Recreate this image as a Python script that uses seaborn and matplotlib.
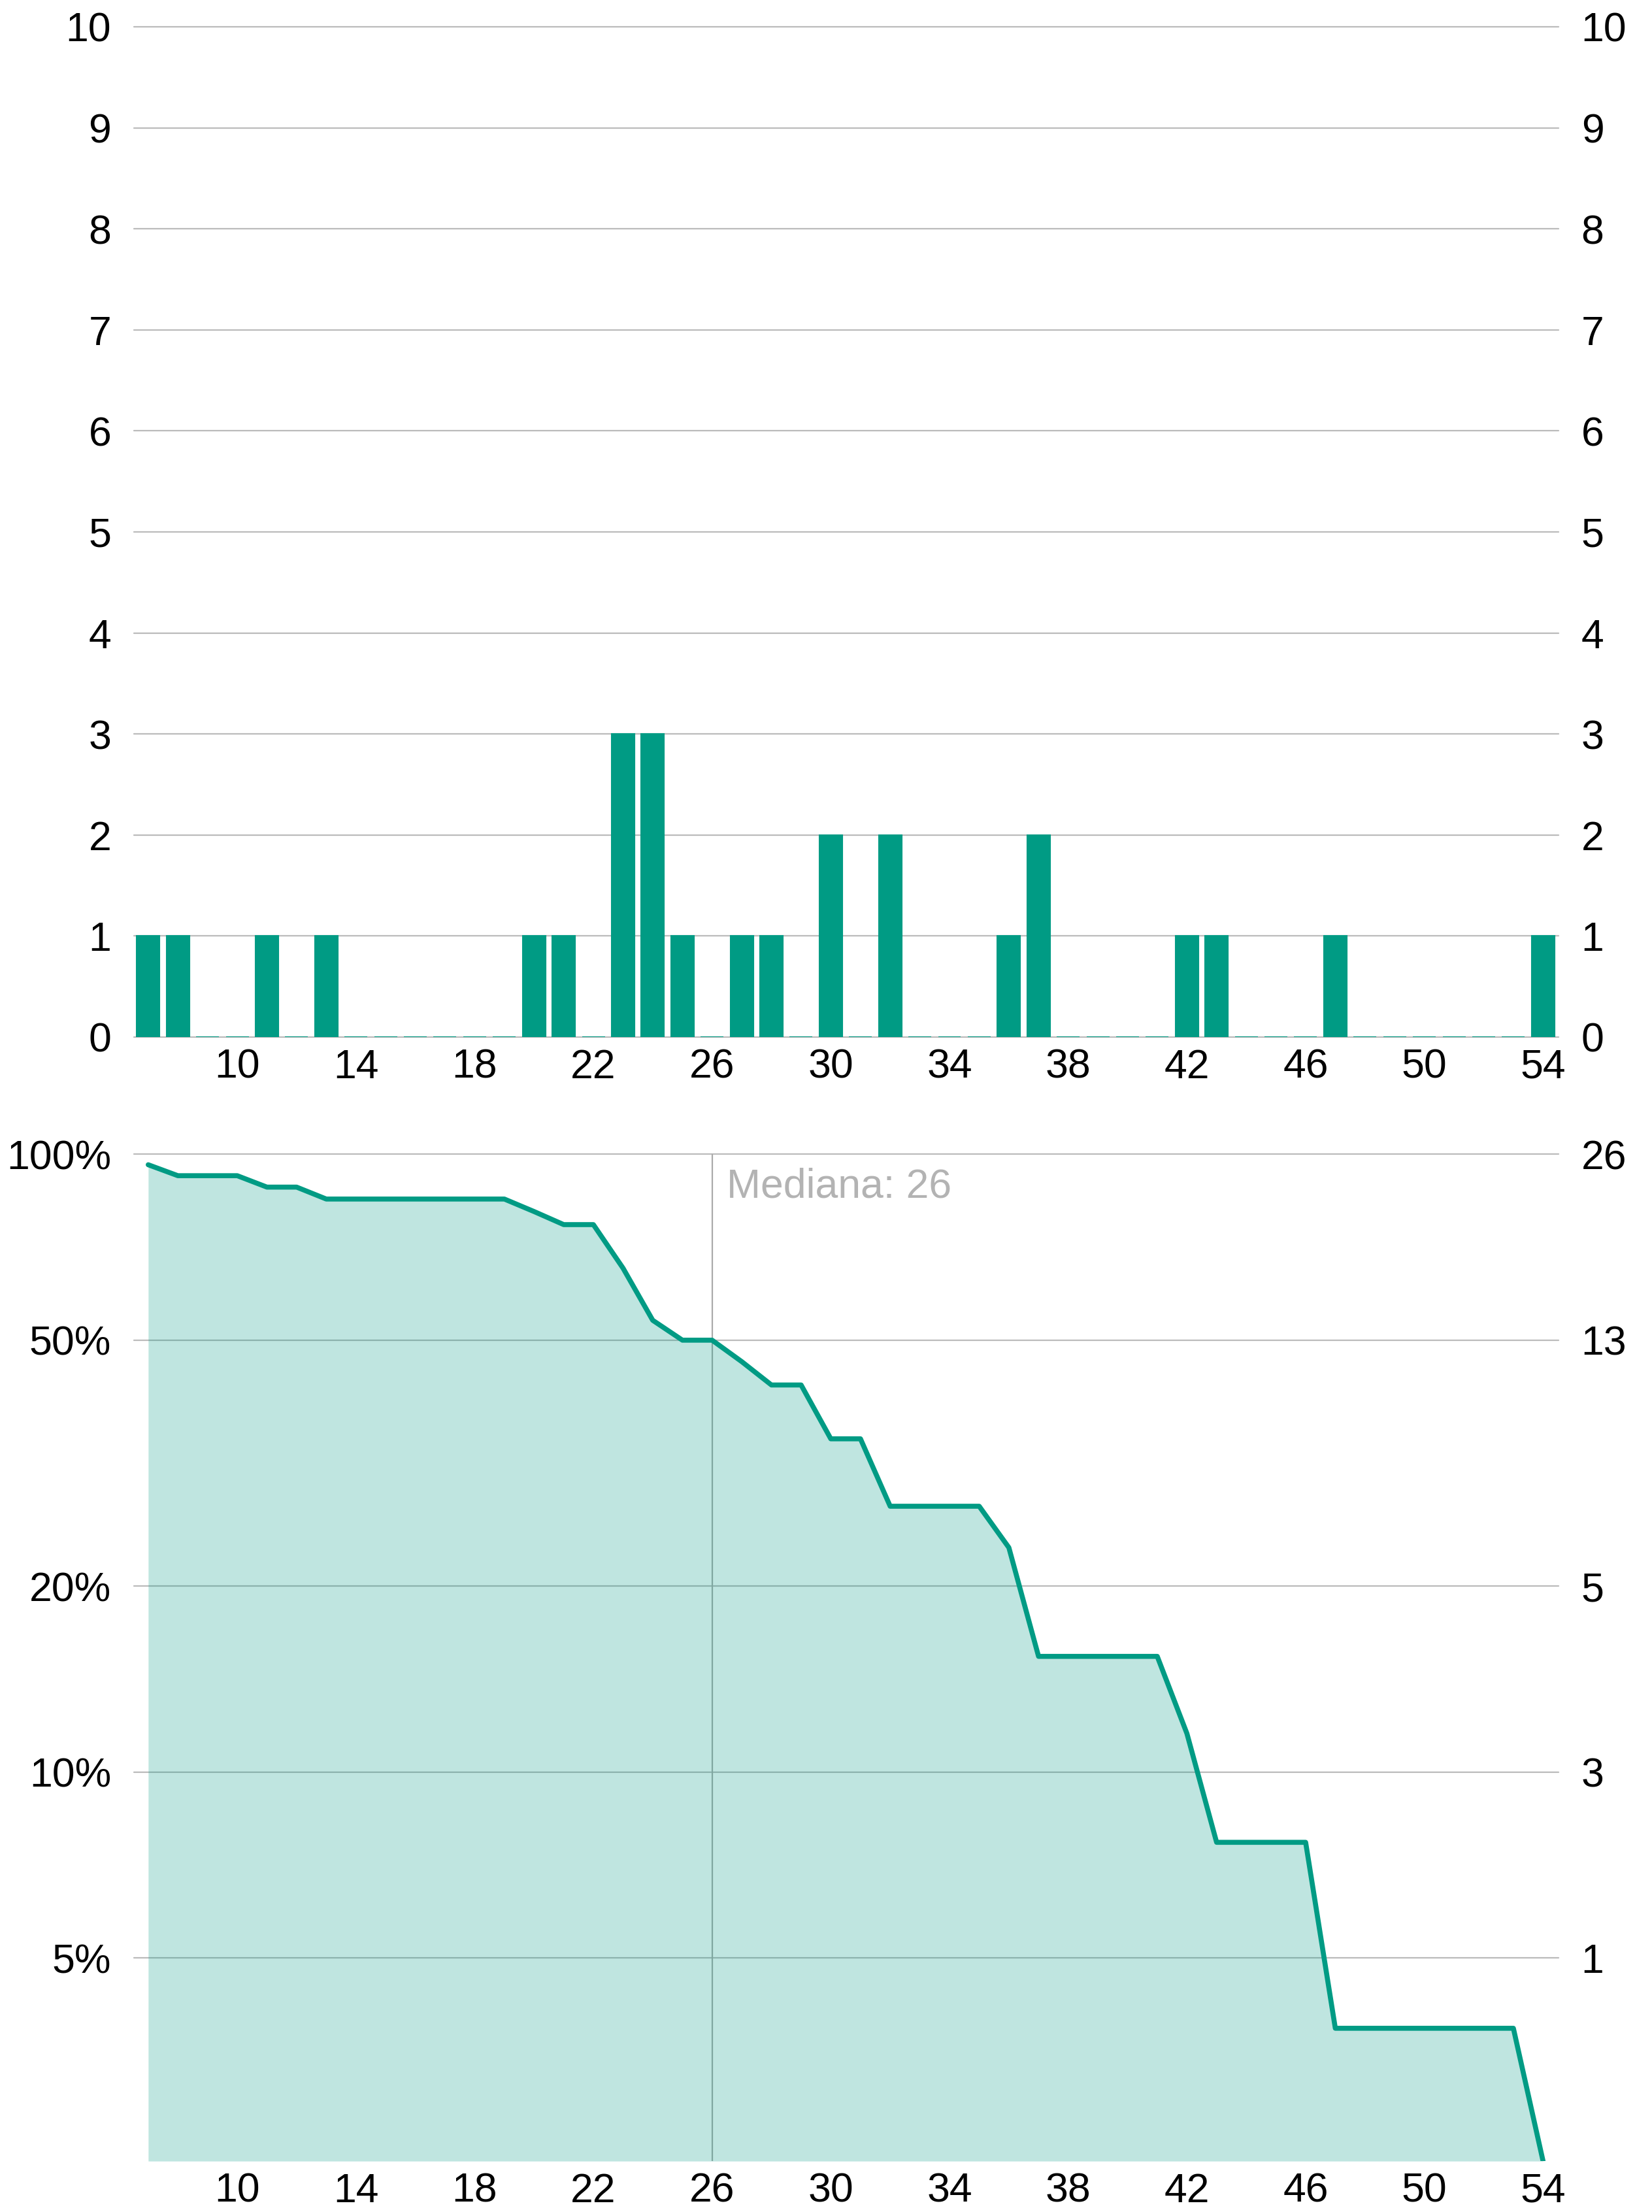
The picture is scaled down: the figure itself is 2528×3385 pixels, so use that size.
import numpy as np
import pandas as pd
import seaborn as sns
import matplotlib.pyplot as plt
from matplotlib.ticker import FixedLocator, NullLocator

# valores
anos = list(range(7, 55))
contagem = [1, 1, 0, 0, 1, 0, 1, 0, 0, 0, 0, 0, 0, 1, 1, 0, 3, 3, 1, 0, 1, 1, 0, 2,
            0, 2, 0, 0, 0, 1, 2, 0, 0, 0, 0, 1, 1, 0, 0, 0, 1, 0, 0, 0, 0, 0, 0, 1]
# quantos ainda restam (acima de cada valor)
restantes = [25, 24, 24, 24, 23, 23, 22, 22, 22, 22, 22, 22, 22, 21, 20, 20, 17, 14,
             13, 13, 12, 11, 11, 9, 9, 7, 7, 7, 7, 6, 4, 4, 4, 4, 4, 3, 2, 2, 2, 2,
             1, 1, 1, 1, 1, 1, 1, 0]
total = 26
mediana = 26

xticks = [10, 14, 18, 22, 26, 30, 34, 38, 42, 46, 50, 54]
pct_ticks = [1.0, 0.5, 0.2, 0.1, 0.05]
pct_labels = ['100%', '50%', '20%', '10%', '5%']
n_labels = ['26', '13', '5', '3', '1']

verde = '#009B84'
cinza = '#BBBBBB'
fs = 45

sns.set_style('white')
plt.rcParams['font.family'] = ['Liberation Sans', 'DejaVu Sans']

fig = plt.figure(figsize=(25.28, 33.85), dpi=100)
ax1 = fig.add_axes([0.0811, 0.5312, 0.8623, 0.4567])
ax2 = fig.add_axes([0.0811, 0.0230, 0.8623, 0.4552])

# --- histograma ---
df = pd.DataFrame({'ano': anos, 'n': contagem})
sns.barplot(data=df, x='ano', y='n', native_scale=True, width=0.77, color=verde,
            edgecolor=verde, linewidth=1.5, saturation=1, ax=ax1, zorder=3)
ax1.set_xlim(6.52, 54.52)
ax1.set_ylim(0, 10)
ax1.set_yticks(range(0, 11))
ax1.set_xticks(xticks)
ax1.grid(axis='y', color=cinza, linewidth=1.6, zorder=0)
ax1.grid(axis='x', visible=False)
for gl in ax1.get_ygridlines():
    gl.set_clip_on(False)
ax1.set_xlabel('')
ax1.set_ylabel('')
ax1.tick_params(axis='both', length=0, labelsize=fs, labelcolor='black')
ax1.tick_params(axis='y', pad=25, labelright=True, right=False)
ax1.tick_params(axis='x', pad=12)
for s in ax1.spines.values():
    s.set_visible(False)

# --- curva de sobrevivência ---
ymin = 0.02344
pct = np.maximum(np.array(restantes) / total, ymin)
df2 = pd.DataFrame({'ano': anos, 'pct': pct})
ax2.set_yscale('log')
ax2.fill_between(df2['ano'], df2['pct'], ymin, color=verde, alpha=0.25, linewidth=0, zorder=2)
sns.lineplot(data=df2, x='ano', y='pct', color=verde, linewidth=5.5, ax=ax2, zorder=3)
ax2.axvline(mediana, color='#AAAAAA', linewidth=1.6, zorder=1)
ax2.text(mediana + 0.5, 0.885, 'Mediana: %d' % mediana, color='#B3B3B3', fontsize=fs,
         ha='left', va='center')
ax2.set_xlim(6.52, 54.52)
ax2.set_ylim(ymin, 1.0)
ax2.yaxis.set_major_locator(FixedLocator(pct_ticks))
ax2.yaxis.set_minor_locator(NullLocator())
ax2.set_yticklabels(pct_labels)
ax2.set_xticks(xticks)
ax2.grid(axis='y', which='major', color=cinza, linewidth=1.6, zorder=0)
ax2.grid(axis='x', visible=False)
for gl in ax2.get_ygridlines():
    gl.set_clip_on(False)
ax2.set_xlabel('')
ax2.set_ylabel('')
ax2.tick_params(axis='both', which='both', length=0, labelsize=fs, labelcolor='black')
ax2.tick_params(axis='y', pad=25)
ax2.tick_params(axis='x', pad=12)
for s in ax2.spines.values():
    s.set_visible(False)

# eixo da direita com contagens
ax3 = ax2.twinx()
ax3.set_yscale('log')
ax3.set_ylim(ymin, 1.0)
ax3.yaxis.set_major_locator(FixedLocator(pct_ticks))
ax3.yaxis.set_minor_locator(NullLocator())
ax3.set_yticklabels(n_labels)
ax3.tick_params(axis='y', which='both', length=0, labelsize=fs, labelcolor='black', pad=25)
for s in ax3.spines.values():
    s.set_visible(False)

plt.savefig('out.png', dpi=100)
